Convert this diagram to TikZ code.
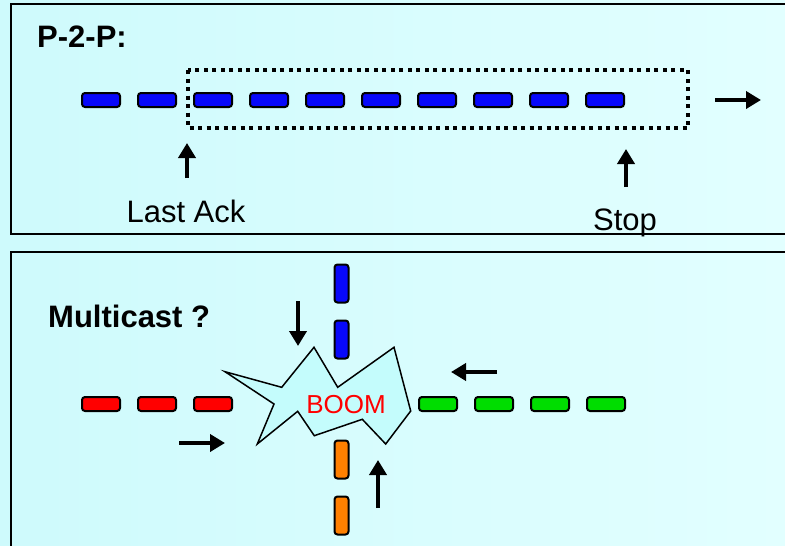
\documentclass[tikz,border=0pt]{standalone}
\usepackage{fontspec}
\setmainfont{Liberation Sans}
\usetikzlibrary{arrows.meta, positioning}

\definecolor{bgleft}{RGB}{206,250,252}
\definecolor{bgright}{RGB}{226,255,255}
\definecolor{burstfill}{RGB}{196,252,252}
\definecolor{pktblue}{RGB}{8,8,250}
\definecolor{pktgreen}{RGB}{0,221,0}
\definecolor{pktorange}{RGB}{255,128,0}

\tikzset{
  pkt/.style={draw=black, line width=2pt, rounded corners=3pt, inner sep=0pt,
    minimum width=38pt, minimum height=14pt},
  vpkt/.style={pkt, minimum width=14pt, minimum height=38pt},
  panel/.style={draw=black, line width=2pt},
  flow/.style={line width=4.5pt, -{Triangle[length=15pt,width=17pt]}},
  window/.style={line width=4pt, dash pattern=on 4pt off 4.5pt},
  label/.style={font=\fontsize{31}{37}\selectfont, anchor=base, inner sep=0pt},
  title/.style={font=\fontsize{31}{37}\selectfont\bfseries, anchor=base west, inner sep=0pt},
}

\begin{document}
\begin{tikzpicture}[x=1pt, y=-1pt]
    \clip (0,0) rectangle (785,546);
    \shade[left color=bgleft, right color=bgright] (0,0) rectangle (785,546);

    % Point to point
    \draw[panel] (11,4) rectangle (800,234);
    \node[title] (p2p) at (37,47) {P-2-P:};
    \foreach \i in {1,...,10}
        \node[pkt, fill=pktblue] (p\i) at ({45+56*\i},100) {};
    \draw[window] (188,70) rectangle (688,128);
    \draw[flow] (715,100) -- (761,100);
    \draw[flow] (187,178) -- (187,143);
    \draw[flow] (626,187) -- (626,149);
    \node[label] (lastack) at (186,222) {Last Ack};
    \node[label] (stop) at (625,230) {Stop};

    % Multicast
    \draw[panel] (11,252) rectangle (800,560);
    \node[title] (mcast) at (48,327) {Multicast ?};
    \draw[line width=1.5pt, fill=burstfill, line join=miter]
        (225,371.7) -- (281.7,387.3) -- (314,347.3) -- (337.7,387.3)
        -- (394,347.3) -- (410.7,411) -- (385.7,444) -- (362.3,419.3)
        -- (314.3,435.7) -- (297.7,411.3) -- (257.3,444) -- (274,404) -- cycle;
    \node[label, red, font=\fontsize{26}{30}\selectfont] (boom) at (346,413) {BOOM};
    \foreach \i in {1,2,3}
        \node[pkt, fill=red] (r\i) at ({45+56*\i},404) {};
    \foreach \i in {1,...,4}
        \node[pkt, fill=pktgreen] (g\i) at ({382+56*\i},404) {};
    \foreach \i in {1,2}
        \node[vpkt, fill=pktblue] (b\i) at (341.5,{227.5+56*\i}) {};
    \foreach \i in {1,2}
        \node[vpkt, fill=pktorange] (o\i) at (341.5,{403.5+56*\i}) {};
    \draw[flow] (298,301) -- (298,346);
    \draw[flow] (378,508) -- (378,460);
    \draw[flow] (179,443) -- (225,443);
    \draw[flow] (497,372) -- (451,372);
\end{tikzpicture}
\end{document}
